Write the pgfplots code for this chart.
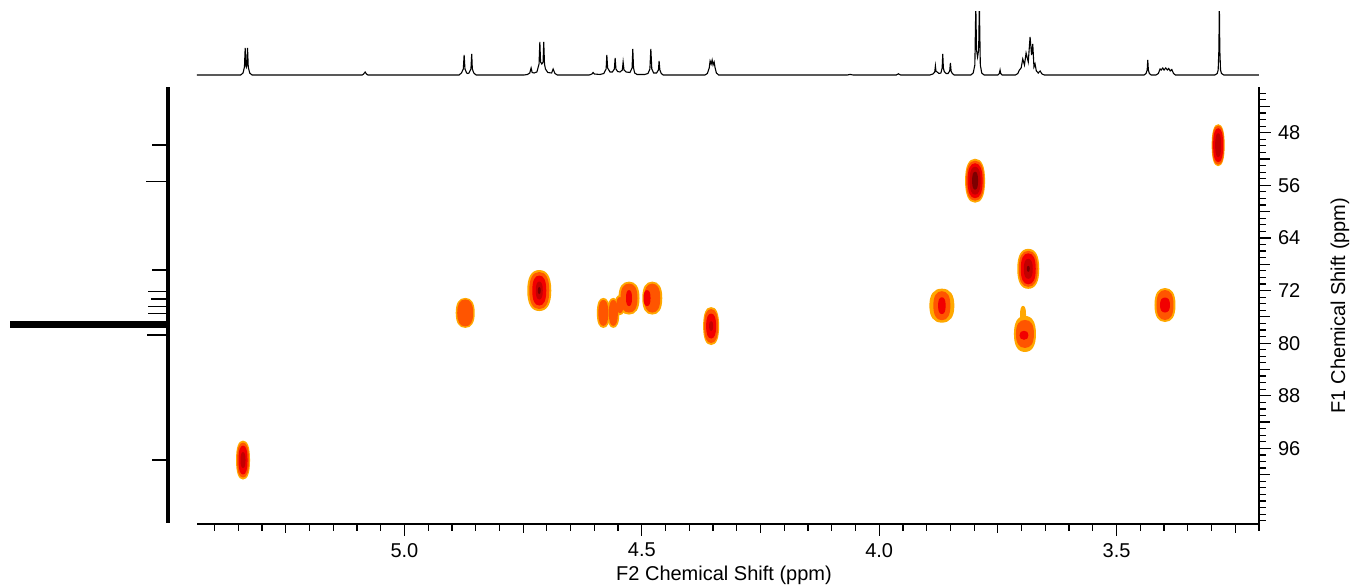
\documentclass[border=0pt]{standalone}
\usepackage{fontspec}
\setmainfont{Liberation Sans}
\usepackage{pgfplots}
\usepackage{pgfplotstable}
\pgfplotsset{compat=1.18}

\definecolor{lev1}{RGB}{255,168,0}
\definecolor{lev2}{RGB}{255,85,0}
\definecolor{lev3}{RGB}{242,0,0}
\definecolor{lev4}{RGB}{195,0,0}
\definecolor{lev5}{RGB}{125,0,0}

% contour blob: half width \pka, half height \pkb (pt), per point
\pgfdeclareplotmark{pk}{%
  \pgfpathmoveto{\pgfpoint{\pka pt}{0pt}}%
  \pgfpathcurveto{\pgfpoint{\pka pt}{0.66*\pkb pt}}{\pgfpoint{0.66*\pka pt}{\pkb pt}}{\pgfpoint{0pt}{\pkb pt}}%
  \pgfpathcurveto{\pgfpoint{-0.66*\pka pt}{\pkb pt}}{\pgfpoint{-\pka pt}{0.66*\pkb pt}}{\pgfpoint{-\pka pt}{0pt}}%
  \pgfpathcurveto{\pgfpoint{-\pka pt}{-0.66*\pkb pt}}{\pgfpoint{-0.66*\pka pt}{-\pkb pt}}{\pgfpoint{0pt}{-\pkb pt}}%
  \pgfpathcurveto{\pgfpoint{0.66*\pka pt}{-\pkb pt}}{\pgfpoint{\pka pt}{-0.66*\pkb pt}}{\pgfpoint{\pka pt}{0pt}}%
  \pgfpathclose\pgfusepathqfill}

% cross peaks, one table per contour level: F2 ppm, F1 ppm, half sizes (pt)
\pgfplotstableread{
x y a b
5.340 97.78 3.5 9.75
4.872 75.4 4.75 7.5
4.716 72.0 6.0 10.25
4.581 75.4 3.25 7.5
4.560 75.4 3.0 7.5
4.546 74.2 2.5 5.0
4.527 73.15 5.25 8.25
4.478 73.15 5.0 8.25
4.354 77.4 4.0 9.5
3.868 74.3 6.25 8.5
3.798 55.3 5.0 11.0
3.686 68.7 5.5 10.0
3.693 78.6 5.5 9.0
3.697 75.7 1.5 4.5
3.398 74.2 5.25 8.5
3.286 49.9 3.25 10.5
}\levA
\pgfplotstableread{
x y a b
5.340 97.78 3.0 8.75
4.872 75.4 4.0 6.75
4.716 72.0 5.0 9.25
4.581 75.4 2.5 6.5
4.560 75.4 2.25 6.5
4.546 74.2 1.75 4.0
4.527 73.15 4.25 7.25
4.478 73.15 4.0 7.25
4.354 77.4 3.5 8.5
3.868 74.3 4.25 7.25
3.798 55.3 4.5 10.0
3.686 68.7 4.75 9.0
3.693 78.6 4.5 7.0
3.398 74.2 4.25 7.5
3.286 49.9 3.0 9.75
}\levB
\pgfplotstableread{
x y a b
5.340 97.78 2.25 7.25
4.716 72.0 3.5 7.5
4.527 73.15 1.5 4.0
4.489 73.15 1.75 4.0
4.354 77.4 2.5 6.25
3.868 74.3 1.9 4.2
3.798 55.3 3.75 8.75
3.686 68.7 3.75 7.75
3.695 78.8 2.25 2.25
3.398 74.2 2.5 3.75
3.286 49.9 2.5 8.5
}\levC
\pgfplotstableread{
x y a b
5.340 97.78 1.25 4.0
4.716 72.0 1.75 4.5
4.354 77.4 1.0 2.5
3.798 55.3 2.75 7.0
3.686 68.7 2.25 5.0
3.286 49.9 1.5 6.0
}\levD
\pgfplotstableread{
x y a b
4.716 72.0 0.75 1.75
3.798 55.3 1.5 4.5
3.686 68.7 0.75 1.5
}\levE

\pgfplotsset{
  peaks/.style={only marks, mark=pk,
    visualization depends on={\thisrow{a}\as\pka},
    visualization depends on={\thisrow{b}\as\pkb}},
}

\begin{document}
\begin{tikzpicture}
\useasboundingbox (0,0) rectangle (678pt,294pt);

% 1H projection on top
\begin{axis}[at={(364pt,272pt)}, anchor=center, scale only axis,
  width=531pt, height=32pt, hide axis,
  xmin=3.20, xmax=5.437, x dir=reverse, ymin=-1, ymax=63]
\addplot[black, line width=0.55pt] coordinates {
(3.200,0)
(3.274,0)(3.279,1.5)(3.281,5)(3.2825,25)(3.2835,70)(3.2845,25)(3.286,5)(3.288,1.5)(3.293,0)
(3.376,0)(3.380,1.5)(3.3837,5.5)(3.387,4)(3.3901,6.5)(3.393,5)(3.3964,7)(3.400,5)(3.4027,7)(3.406,5)(3.4084,6)(3.412,1.5)(3.417,0)
(3.427,0)(3.431,1.5)(3.433,5)(3.4343,15)(3.4355,5)(3.438,1.5)(3.442,0)
(3.652,0)(3.657,1)(3.6611,4)(3.665,2)(3.669,4)(3.6717,11)(3.674,8)(3.6765,31)(3.679,20)(3.6822,38)(3.686,13)(3.6906,22)(3.694,10)(3.6976,16)(3.701,7)(3.7047,5)(3.708,1.5)(3.713,0)
(3.741,0)(3.744,1.5)(3.7454,5)(3.747,1.5)(3.750,0)
(3.779,0)(3.784,2)(3.787,10)(3.789,70)(3.7905,25)(3.7928,18)(3.795,25)(3.7965,70)(3.7985,10)(3.802,2)(3.807,0)
(3.842,0)(3.846,1.5)(3.8485,4)(3.850,12)(3.8515,4)(3.855,1.5)(3.859,1.5)(3.863,3.5)(3.8648,7)(3.8661,21)(3.8674,7)(3.870,2)(3.874,1.5)(3.878,3)(3.8805,4)(3.8816,9)(3.883,3)(3.887,1)(3.893,0)
(3.955,0)(3.9596,1.2)(3.964,0)
(4.055,0)(4.061,0.6)(4.067,0)
(4.338,0)(4.343,2)(4.346,8)(4.3477,13)(4.350,10)(4.3519,15)(4.354,11)(4.3562,14)(4.358,7)(4.362,1.5)(4.367,0)
(4.455,0)(4.459,1.5)(4.462,5)(4.4636,14)(4.465,5)(4.469,2)(4.475,2)(4.479,6)(4.4810,26)(4.483,6)(4.487,1.5)(4.494,0.5)
(4.510,0.5)(4.515,2)(4.5175,7)(4.5190,26)(4.5205,7)(4.525,2.5)(4.533,3)(4.5375,5)(4.5394,13)(4.541,5)(4.546,3)(4.551,3.5)(4.5545,6)(4.5562,17)(4.5578,6)(4.562,3)(4.567,3)(4.572,7)(4.5737,20)(4.5752,6)(4.580,1.5)(4.588,0.5)(4.600,1)(4.6026,2.5)(4.605,1)(4.611,0)
(4.678,0)(4.683,1.5)(4.6868,6)(4.690,2)(4.698,2.5)(4.703,6)(4.705,11)(4.7066,33)(4.708,13)(4.7107,11)(4.7133,13)(4.7148,33)(4.7165,11)(4.721,3)(4.727,2)(4.731,2.5)(4.7332,7)(4.736,2)(4.741,0.5)(4.748,0)
(4.849,0)(4.854,2)(4.857,6)(4.8583,21)(4.860,6)(4.864,2)(4.8665,1.5)(4.869,2)(4.8725,6)(4.8743,20)(4.876,6)(4.880,2)(4.885,0)
(5.077,0)(5.080,1)(5.0828,3)(5.086,1)(5.089,0)
(5.321,0)(5.326,2)(5.329,8)(5.3305,27)(5.332,10)(5.333,8)(5.334,10)(5.3355,27)(5.337,8)(5.340,2)(5.345,0)
(5.437,0)
};
\end{axis}

% 13C projection on the left
\begin{axis}[at={(44.75pt,141.25pt)}, anchor=center, scale only axis,
  width=81.5pt, height=218.5pt, hide axis,
  xmin=-3, xmax=160, x dir=reverse, ymin=41.05, ymax=107.5, y dir=reverse]
\addplot[black, line width=1.7pt] coordinates {(0,41.1) (0,107.4)};
\addplot[xcomb, black, line width=0.6pt] coordinates {
(16.3,49.87) (22,55.45) (16.3,68.88) (20.3,72.18) (17,73.29)
(20.3,74.46) (19.7,75.47) (21.3,78.77) (16.3,97.78)};
\addplot[xcomb, black, line width=1.3pt] coordinates {
(158,76.84) (158,77.16) (158,77.48)};
\end{axis}

% HSQC map
\begin{axis}[at={(364pt,141.25pt)}, anchor=center, scale only axis,
  width=531pt, height=218.5pt,
  xmin=3.20, xmax=5.437, x dir=reverse,
  ymin=41.05, ymax=107.5, y dir=reverse,
  axis x line*=bottom, axis y line*=right,
  axis line style={-, line width=0.6pt},
  tick align=outside,
  every tick/.style={black, line width=0.6pt},
  major tick length=6pt, minor tick length=3.5pt,
  xtick={3.5,4.0,4.5,5.0},
  minor xtick={3.20,3.25,...,5.44},
  extra x ticks={3.25,3.75,4.25,4.75,5.25},
  extra x tick labels={},
  extra x tick style={major tick length=4.5pt},
  ytick={48,56,...,96},
  minor ytick={42,43,...,107},
  extra y ticks={44,52,...,104},
  extra y tick labels={},
  extra y tick style={major tick length=5.5pt},
  /pgf/number format/assume math mode=true,
  xticklabel={\pgfmathprintnumber[fixed,fixed zerofill,precision=1]{\tick}},
  yticklabel={\pgfmathprintnumber{\tick}},
  tick label style={font=\fontsize{10}{12}\selectfont},
  xlabel={F2 Chemical Shift (ppm)},
  ylabel={F1 Chemical Shift (ppm)},
  every axis x label/.style={at={(axis description cs:0.5,0)}, xshift=-2pt,
    yshift=-25.5pt, anchor=center, font=\fontsize{10}{12}\selectfont},
  every axis y label/.style={at={(axis description cs:1,0.5)}, xshift=40.5pt,
    rotate=90, anchor=center, font=\fontsize{10}{12}\selectfont},
  clip=false,
]
\addplot[peaks, color=lev1] table {\levA};
\addplot[peaks, color=lev2] table {\levB};
\addplot[peaks, color=lev3] table {\levC};
\addplot[peaks, color=lev4] table {\levD};
\addplot[peaks, color=lev5] table {\levE};
\end{axis}
\end{tikzpicture}
\end{document}
